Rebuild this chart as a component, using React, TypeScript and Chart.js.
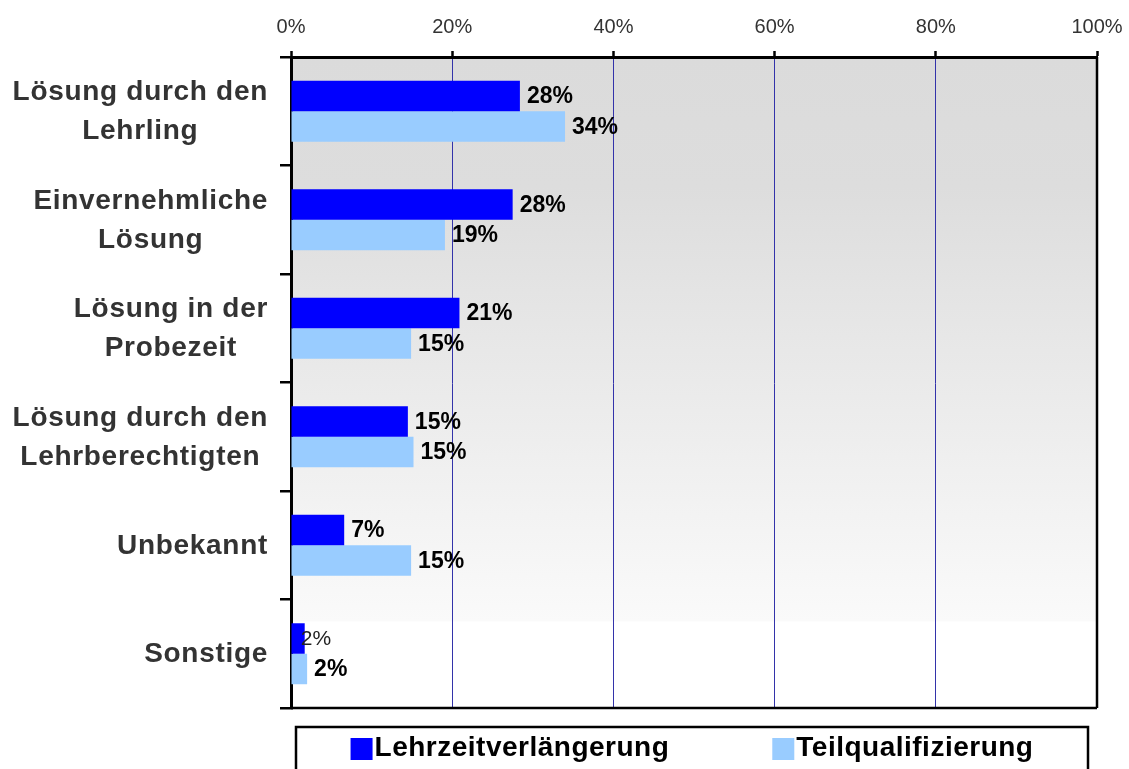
import { useEffect, useRef } from 'react';
import { Chart, registerables } from 'chart.js';

Chart.register(...registerables);

const categories: string[][] = [
  ['Lösung durch den', 'Lehrling'],
  ['Einvernehmliche', 'Lösung'],
  ['Lösung in der', 'Probezeit'],
  ['Lösung durch den', 'Lehrberechtigten'],
  ['Unbekannt'],
  ['Sonstige'],
];
const seriesNames = ['Lehrzeitverlängerung', 'Teilqualifizierung'];
const seriesColors = ['#0000ff', '#99ccff'];
const lehrzeitValues = [28.4, 27.5, 20.9, 14.5, 6.6, 1.7];
const teilValues = [34.0, 19.1, 14.9, 15.2, 14.9, 2.0];
const xTicks = [0, 20, 40, 60, 80, 100];

const FONT = '"Liberation Sans", Arial, Helvetica, sans-serif';

export default function App() {
  const ref = useRef<HTMLCanvasElement>(null);

  useEffect(() => {
    document.body.style.margin = '0';
    const canvas = ref.current;
    if (!canvas) return;

    const bgPlugin = {
      id: 'bgGradient',
      beforeDraw(chart: any) {
        const { ctx, chartArea: a } = chart;
        const g = ctx.createLinearGradient(0, a.top, 0, a.bottom);
        g.addColorStop(0, '#dbdbdb');
        g.addColorStop(0.2, '#dddddd');
        g.addColorStop(0.866, '#fafafa');
        g.addColorStop(0.868, '#ffffff');
        g.addColorStop(1, '#ffffff');
        ctx.save();
        ctx.fillStyle = g;
        ctx.fillRect(a.left, a.top, a.right - a.left, a.bottom - a.top);
        ctx.restore();
      },
    };

    const labelsPlugin = {
      id: 'valueLabels',
      afterDatasetsDraw(chart: any) {
        const { ctx } = chart;
        ctx.save();
        chart.data.datasets.forEach((ds: any, di: number) => {
          const meta = chart.getDatasetMeta(di);
          meta.data.forEach((bar: any, i: number) => {
            const v = ds.data[i] as number;
            const txt = Math.round(v) + '%';
            const small = di === 0 && i === categories.length - 1;
            ctx.font = small ? `21px ${FONT}` : `bold 23px ${FONT}`;
            ctx.fillStyle = small ? '#222222' : '#000000';
            ctx.textBaseline = 'middle';
            ctx.textAlign = 'left';
            ctx.fillText(txt, small ? bar.x - 4 : bar.x + 7, bar.y + 1);
          });
        });
        ctx.restore();
      },
    };

    const framePlugin = {
      id: 'frameAndLegend',
      afterDraw(chart: any) {
        const { ctx, chartArea: a } = chart;
        ctx.save();
        ctx.strokeStyle = '#000';
        ctx.lineWidth = 2.5;
        ctx.beginPath();
        ctx.moveTo(a.right, a.top);
        ctx.lineTo(a.right, a.bottom);
        ctx.moveTo(a.left, a.bottom);
        ctx.lineTo(a.right, a.bottom);
        ctx.stroke();

        // category labels
        const ys = chart.scales.y;
        ctx.font = `bold 28px ${FONT}`;
        (ctx as any).letterSpacing = '0.7px';
        ctx.fillStyle = '#333333';
        ctx.textAlign = 'center';
        ctx.textBaseline = 'middle';
        categories.forEach((lines, i) => {
          const y = ys.getPixelForTick(i);
          const w = Math.max(...lines.map((l) => ctx.measureText(l).width));
          const right = ys.right - 23;
          const cx = right - w / 2;
          lines.forEach((l, j) => {
            ctx.fillText(l, cx, y + (j - (lines.length - 1) / 2) * 39 + 1);
          });
        });

        // legend
        const boxL = a.left + 5;
        const boxR = a.right - 9;
        const boxT = a.bottom + 19;
        ctx.lineWidth = 2.5;
        ctx.strokeRect(boxL, boxT, boxR - boxL, 80);
        ctx.font = `bold 28px ${FONT}`;
        (ctx as any).letterSpacing = '0.5px';
        ctx.fillStyle = '#000';
        ctx.textAlign = 'left';
        const sq = 22;
        const gapText = 2;
        const gapItems = 103;
        const widths = seriesNames.map((n) => sq + gapText + ctx.measureText(n).width);
        const total = widths.reduce((s, w) => s + w, 0) + gapItems * (widths.length - 1);
        let x = (boxL + boxR) / 2 - total / 2;
        const cy = boxT + 22;
        seriesNames.forEach((n, i) => {
          ctx.fillStyle = seriesColors[i];
          ctx.fillRect(x, cy - sq / 2, sq, sq);
          ctx.fillStyle = '#000';
          ctx.fillText(n, x + sq + gapText, cy - 1);
          x += widths[i] + gapItems;
        });
        (ctx as any).letterSpacing = '0px';
        ctx.restore();
      },
    };

    const chart = new Chart(canvas, {
      type: 'bar',
      data: {
        labels: categories.map((c) => c.join(' ')),
        datasets: [
          {
            label: seriesNames[0],
            data: lehrzeitValues,
            backgroundColor: seriesColors[0],
            barPercentage: 1,
            categoryPercentage: 0.562,
          },
          {
            label: seriesNames[1],
            data: teilValues,
            backgroundColor: seriesColors[1],
            barPercentage: 1,
            categoryPercentage: 0.562,
          },
        ],
      },
      options: {
        indexAxis: 'y',
        responsive: false,
        animation: false,
        layout: { padding: { top: 0, left: 0, right: 32, bottom: 61 } },
        plugins: {
          legend: { display: false },
          tooltip: { enabled: false },
        },
        scales: {
          x: {
            position: 'top',
            min: 0,
            max: 100,
            afterBuildTicks: (s: any) => {
              s.ticks = xTicks.map((v) => ({ value: v }));
            },
            ticks: {
              callback: (v: any) => v + '%',
              font: { size: 20, family: FONT },
              color: '#333333',
              padding: 12,
              maxRotation: 0,
              autoSkip: false,
            },
            grid: {
              color: '#3333aa',
              lineWidth: 1,
              drawTicks: true,
              tickLength: 6,
              tickColor: '#000000',
              tickWidth: 2.5,
            },
            border: { display: true, color: '#000000', width: 3 },
            afterFit: (s: any) => {
              s.height = 57;
              s.paddingLeft = 0;
              s.paddingRight = 0;
            },
          },
          y: {
            offset: true,
            ticks: { display: false },
            grid: {
              offset: true,
              drawOnChartArea: false,
              drawTicks: true,
              tickLength: 11,
              color: '#000000',
              lineWidth: 2.5,
            },
            border: { display: true, color: '#000000', width: 3 },
            afterFit: (s: any) => {
              s.width = 291;
            },
          },
        },
      },
      plugins: [bgPlugin, labelsPlugin, framePlugin],
    } as any);

    return () => chart.destroy();
  }, []);

  return (
    <div style={{ width: 1129, height: 769, background: '#fff' }}>
      <canvas ref={ref} width={1129} height={769} style={{ display: 'block' }} />
    </div>
  );
}
